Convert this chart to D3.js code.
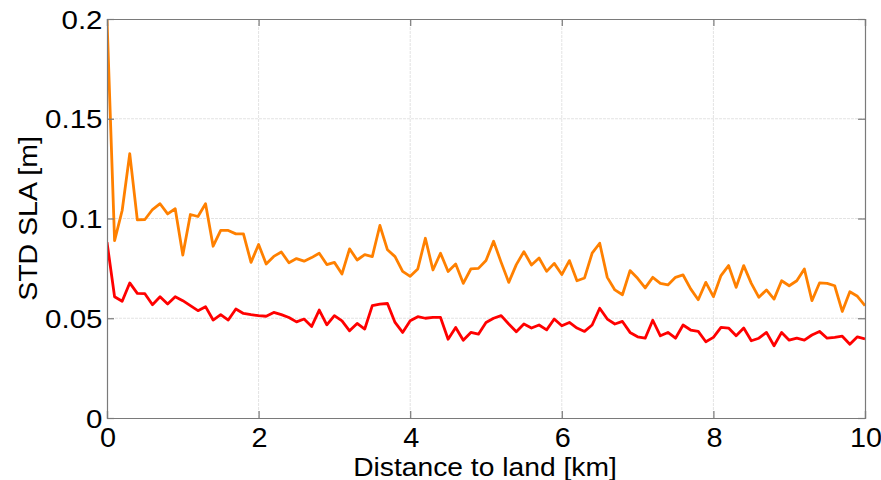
<!DOCTYPE html>
<html>
<head>
<meta charset="utf-8">
<script src="https://cdn.jsdelivr.net/npm/d3@7"></script>
<style>
html,body{margin:0;padding:0;background:#fff;}
svg text{font-family:"Liberation Sans",Arial,sans-serif;fill:#000;}
</style>
</head>
<body>
<svg id="chart" width="881" height="480"></svg>
<script>
const distance = d3.range(0, 101).map(i => i / 10);
const orangeSeries = [
0.2, 0.0889, 0.104, 0.1325, 0.0993, 0.0995, 0.1045, 0.1074, 0.1023, 0.1049,
0.0817, 0.102, 0.101, 0.1074, 0.0861, 0.094, 0.094, 0.0923, 0.0923, 0.078,
0.087, 0.0772, 0.081, 0.0832, 0.0778, 0.0799, 0.0786, 0.0804, 0.0826, 0.0769,
0.078, 0.0722, 0.0848, 0.0792, 0.0819, 0.0809, 0.0965, 0.0843, 0.0809, 0.0735,
0.071, 0.0747, 0.0901, 0.0742, 0.0826, 0.0734, 0.0772, 0.0675, 0.0747, 0.075,
0.0789, 0.0886, 0.078, 0.068, 0.0769, 0.0834, 0.0767, 0.0802, 0.0735, 0.0775,
0.0719, 0.0789, 0.0688, 0.0702, 0.0826, 0.0876, 0.0705, 0.0642, 0.0618, 0.0739,
0.070, 0.0652, 0.0705, 0.0675, 0.0667, 0.0705, 0.0717, 0.0647, 0.0593, 0.068,
0.0608, 0.0714, 0.0764, 0.0655, 0.0764, 0.0675, 0.0605, 0.0642, 0.0596, 0.0688,
0.0663, 0.0688, 0.0747, 0.0588, 0.0677, 0.0675, 0.0663, 0.0534, 0.0633, 0.061,
0.0563];
const redSeries = [
0.0881, 0.0608, 0.0585, 0.0677, 0.0625, 0.0623, 0.0568, 0.0608, 0.0571, 0.0608,
0.0588, 0.0563, 0.0538, 0.0558, 0.0491, 0.0518, 0.0491, 0.0546, 0.0524, 0.0518,
0.0513, 0.051, 0.0529, 0.0518, 0.0504, 0.0482, 0.0496, 0.0459, 0.0541, 0.0467,
0.0513, 0.0487, 0.0437, 0.0474, 0.0446, 0.0563, 0.0571, 0.0574, 0.0479, 0.0429,
0.0487, 0.0508, 0.050, 0.0504, 0.0504, 0.0395, 0.0454, 0.039, 0.0429, 0.042,
0.0479, 0.050, 0.0513, 0.0471, 0.0432, 0.0471, 0.0451, 0.0466, 0.0442, 0.0496,
0.0462, 0.0479, 0.0451, 0.0434, 0.0466, 0.055, 0.0496, 0.0471, 0.0484, 0.0429,
0.0407, 0.040, 0.049, 0.0412, 0.0429, 0.040, 0.0466, 0.0441, 0.0434, 0.0382,
0.0404, 0.0454, 0.0451, 0.0412, 0.0451, 0.0387, 0.040, 0.0429, 0.0362, 0.0429,
0.039, 0.040, 0.039, 0.0416, 0.0434, 0.040, 0.0404, 0.041, 0.037, 0.0407,
0.0396];
const xTicks = [0, 2, 4, 6, 8, 10];
const yTicks = [0, 0.05, 0.1, 0.15, 0.2];
const yTickLabels = ["0", "0.05", "0.1", "0.15", "0.2"];
const xLabel = "Distance to land [km]";
const yLabel = "STD SLA [m]";

const svg = d3.select("#chart");
const L = 107, R = 865, T = 19, B = 418;
const x = d3.scaleLinear().domain([0, 10]).range([L, R]);
const y = d3.scaleLinear().domain([0, 0.2]).range([B, T]);

// grid
const grid = svg.append("g");
grid.selectAll(".gx").data(xTicks.slice(1, -1)).enter().append("line")
  .attr("x1", d => x(d)).attr("x2", d => x(d)).attr("y1", T).attr("y2", B)
  .attr("stroke", "#e3e3e3").attr("stroke-width", 1).attr("stroke-dasharray", "3,1");
grid.selectAll(".gy").data(yTicks.slice(1, -1)).enter().append("line")
  .attr("y1", d => y(d)).attr("y2", d => y(d)).attr("x1", L).attr("x2", R)
  .attr("stroke", "#e3e3e3").attr("stroke-width", 1).attr("stroke-dasharray", "3,1");

svg.append("defs").append("clipPath").attr("id", "clip")
  .append("rect").attr("x", L).attr("y", T).attr("width", R - L).attr("height", B - T);

const line = d3.line().x((d, i) => x(distance[i])).y(d => y(d));
const plot = svg.append("g").attr("clip-path", "url(#clip)");
plot.append("path").datum(orangeSeries).attr("d", line)
  .attr("fill", "none").attr("stroke", "#ff8000").attr("stroke-width", 2.8).attr("stroke-linejoin", "round");
plot.append("path").datum(redSeries).attr("d", line)
  .attr("fill", "none").attr("stroke", "#ff0000").attr("stroke-width", 2.8).attr("stroke-linejoin", "round");

// axes
const axColor = "#7a7a7a";
const tickLen = 7;
const xb = svg.append("g").attr("transform", `translate(0,${B})`)
  .call(d3.axisBottom(x).tickValues(xTicks).tickSize(-tickLen).tickFormat(d3.format("d")));
const xt = svg.append("g").attr("transform", `translate(0,${T})`)
  .call(d3.axisTop(x).tickValues(xTicks).tickSize(-tickLen).tickFormat(""));
const yl = svg.append("g").attr("transform", `translate(${L},0)`)
  .call(d3.axisLeft(y).tickValues(yTicks).tickSize(-tickLen).tickFormat((d, i) => yTickLabels[i]));
const yr = svg.append("g").attr("transform", `translate(${R},0)`)
  .call(d3.axisRight(y).tickValues(yTicks).tickSize(-tickLen).tickFormat(""));
[xb, xt, yl, yr].forEach(g => {
  g.select(".domain").attr("stroke", axColor).attr("stroke-width", 1.2);
  g.selectAll(".tick line").attr("stroke", axColor).attr("stroke-width", 1.2);
  g.selectAll("text").attr("font-family", "Liberation Sans, Arial, sans-serif").attr("fill", "#000");
});
xb.selectAll("text").attr("font-size", 28).attr("y", 0).attr("dy", 0)
  .attr("transform", "translate(0.5,28.5) scale(1.03,1)");
yl.selectAll("text").attr("font-size", 25).attr("x", 0).attr("dy", "0.36em")
  .attr("transform", "translate(-4.5,0) scale(1.18,1)");

svg.append("text").attr("transform", `translate(485,475.5) scale(1.13,1)`)
  .attr("text-anchor", "middle").attr("font-size", 25).text(xLabel);
svg.append("text").attr("transform", `translate(37,218.5) rotate(-90) scale(1.14,1)`)
  .attr("text-anchor", "middle").attr("font-size", 25).text(yLabel);
</script>
</body>
</html>
